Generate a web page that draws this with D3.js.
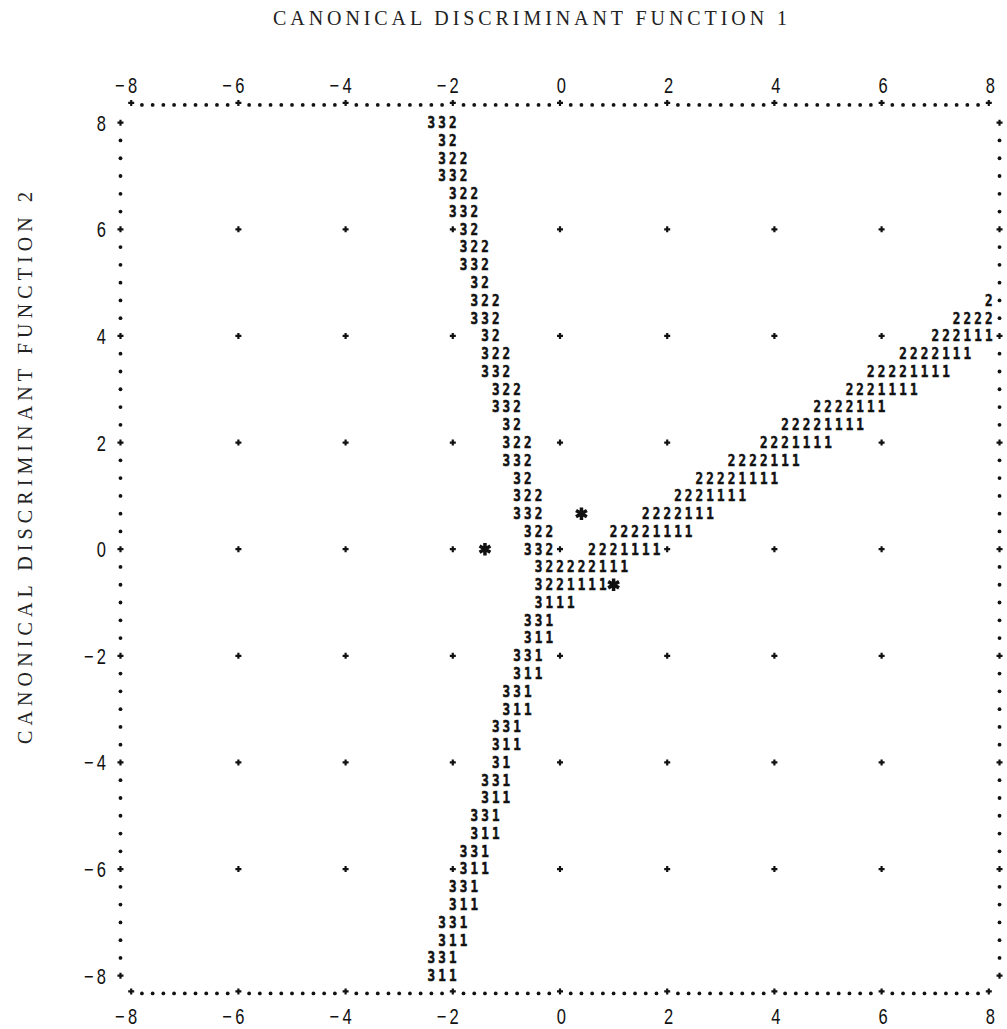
<!DOCTYPE html>
<html>
<head>
<meta charset="utf-8">
<script src="https://cdn.jsdelivr.net/npm/d3@7"></script>
<style>
  body { margin: 0; background: #fff; }
</style>
</head>
<body>
<div id="chart"></div>
<script>
// axis ticks of the territorial map
const xTicks = [-8, -6, -4, -2, 0, 2, 4, 6, 8];
const yTicks = [8, 6, 4, 2, 0, -2, -4, -6, -8];
const gridTicks = [-6, -4, -2, 0, 2, 4, 6];

// printer map: 81 columns (0.2 units each), 49 lines (1/3 unit each)
// rows are [line, first column, characters]
const border32 = [
  [0, 28, "332"], [1, 29, "32"], [2, 29, "322"], [3, 29, "332"],
  [4, 30, "322"], [5, 30, "332"], [6, 31, "32"], [7, 31, "322"],
  [8, 31, "332"], [9, 32, "32"], [10, 32, "322"], [11, 32, "332"],
  [12, 33, "32"], [13, 33, "322"], [14, 33, "332"], [15, 34, "322"],
  [16, 34, "332"], [17, 35, "32"], [18, 35, "322"], [19, 35, "332"],
  [20, 36, "32"], [21, 36, "322"], [22, 36, "332"], [23, 37, "322"],
  [24, 37, "332"]
];
const border21 = [
  [10, 80, "2"], [11, 77, "2222"], [12, 75, "222111"], [13, 72, "2222111"],
  [14, 69, "22221111"], [15, 67, "2221111"], [16, 64, "2222111"],
  [17, 61, "22221111"], [18, 59, "2221111"], [19, 56, "2222111"],
  [20, 53, "22221111"], [21, 51, "2221111"], [22, 48, "2222111"],
  [23, 45, "22221111"], [24, 43, "2221111"]
];
const junction = [
  [25, 38, "322222111"], [26, 38, "3221111"], [27, 38, "3111"]
];
const border31 = [
  [28, 37, "331"], [29, 37, "311"], [30, 36, "331"], [31, 36, "311"],
  [32, 35, "331"], [33, 35, "311"], [34, 34, "331"], [35, 34, "311"],
  [36, 34, "31"], [37, 33, "331"], [38, 33, "311"], [39, 32, "331"],
  [40, 32, "311"], [41, 31, "331"], [42, 31, "311"], [43, 30, "331"],
  [44, 30, "311"], [45, 29, "331"], [46, 29, "311"], [47, 28, "331"],
  [48, 28, "311"]
];
// group centroids [line, column]
const centroids = [[22, 42], [24, 33], [26, 45]];

const width = 1007, height = 1029;

const svg = d3.select("#chart")
  .append("svg")
    .attr("width", width)
    .attr("height", height);

var x = d3.scaleLinear().domain([-8, 8]).range([131.2, 988.8]);
var y = d3.scaleLinear().domain([8, -8]).range([122.7, 975.7]);
var colS = d3.scaleLinear().domain([0, 80]).range(x.range());
var lineS = d3.scaleLinear().domain([0, 48]).range(y.range());

const ink = "#111";
const plusPath = "M-3,0H3M0,-3V3";

// titles
svg.append("text")
    .attr("x", 530)
    .attr("y", 25)
    .attr("text-anchor", "middle")
    .attr("font-family", "'Liberation Serif', 'DejaVu Serif', serif")
    .attr("font-size", "20px")
    .attr("fill", "#222")
    .attr("textLength", 514)
    .attr("lengthAdjust", "spacing")
    .text("CANONICAL DISCRIMINANT FUNCTION 1");

svg.append("text")
    .attr("transform", "translate(32,468) rotate(-90)")
    .attr("text-anchor", "middle")
    .attr("font-family", "'Liberation Serif', 'DejaVu Serif', serif")
    .attr("font-size", "20px")
    .attr("fill", "#222")
    .attr("textLength", 552)
    .attr("lengthAdjust", "spacing")
    .text("CANONICAL DISCRIMINANT FUNCTION 2");

// tick labels
function fmt(d) { return d < 0 ? "\u2212\u2009" + (-d) : String(d); }

const labels = svg.append("g")
    .attr("font-family", "'Liberation Sans', Arial, sans-serif")
    .attr("font-size", "22px")
    .attr("fill", ink);

xTicks.forEach(d => {
  [93, 1024].forEach(ty => {
    labels.append("g")
      .attr("transform", "translate(" + (x(d) + 6) + "," + ty + ") scale(0.75,1)")
      .append("text")
        .attr("text-anchor", "end")
        .text(fmt(d));
  });
});
yTicks.forEach(d => {
  labels.append("g")
    .attr("transform", "translate(106," + (y(d) + 8) + ") scale(0.75,1)")
    .append("text")
      .attr("text-anchor", "end")
      .text(fmt(d));
});

// dotted frame
const frame = svg.append("g");
function frameMark(el, cx, cy, isTick) {
  if (isTick) {
    el.append("path")
      .attr("d", plusPath)
      .attr("transform", "translate(" + cx + "," + cy + ")")
      .attr("stroke", ink).attr("stroke-width", 2.2).attr("fill", "none");
  } else {
    el.append("circle").attr("cx", cx).attr("cy", cy).attr("r", 1.9).attr("fill", ink);
  }
}
d3.range(0, 81).forEach(c => {
  frameMark(frame, colS(c), lineS(-1) - (c % 10 === 0 ? 2 : 0), c % 10 === 0);
  frameMark(frame, colS(c), lineS(49) - (c % 10 === 0 ? 2 : 0), c % 10 === 0);
});
d3.range(0, 49).forEach(k => {
  frameMark(frame, colS(-1), lineS(k), k % 6 === 0);
  frameMark(frame, colS(81), lineS(k), k % 6 === 0);
});

// territory characters
const allRows = border32.concat(border21, junction, border31);
const chars = [];
allRows.forEach(r => {
  r[2].split("").forEach((ch, i) => chars.push({line: r[0], col: r[1] + i, ch: ch}));
});
const occupied = new Set(chars.map(d => d.line + "_" + d.col));
centroids.forEach(d => occupied.add(d[0] + "_" + d[1]));

// interior grid crosses
const grid = [];
gridTicks.forEach(gy => gridTicks.forEach(gx => {
  const c = Math.round(colS.invert(x(gx)));
  const k = Math.round(lineS.invert(y(gy)));
  if (!occupied.has(k + "_" + c)) grid.push([gx, gy]);
}));
svg.append("g").selectAll("path")
  .data(grid)
  .enter().append("path")
    .attr("d", plusPath)
    .attr("transform", d => "translate(" + x(d[0]) + "," + y(d[1]) + ")")
    .attr("stroke", ink)
    .attr("stroke-width", 2.2)
    .attr("fill", "none");

svg.append("g").selectAll("g")
  .data(chars)
  .enter().append("g")
    .attr("transform", d => "translate(" + colS(d.col) + "," + (lineS(d.line) + 5.4) + ") scale(0.9,1.12)")
  .append("text")
    .attr("text-anchor", "middle")
    .attr("font-family", "'DejaVu Sans Mono', 'Liberation Mono', monospace")
    .attr("font-weight", "bold")
    .attr("font-size", "14px")
    .attr("fill", ink)
    .attr("stroke", ink)
    .attr("stroke-width", 0.5)
    .text(d => d.ch);

// centroids
svg.append("g").selectAll("path")
  .data(centroids)
  .enter().append("path")
    .attr("d", d3.symbol(d3.symbolAsterisk, 110))
    .attr("transform", d => "translate(" + colS(d[1]) + "," + lineS(d[0]) + ")")
    .attr("stroke", ink)
    .attr("stroke-width", 3.5)
    .attr("fill", "none");
</script>
</body>
</html>
